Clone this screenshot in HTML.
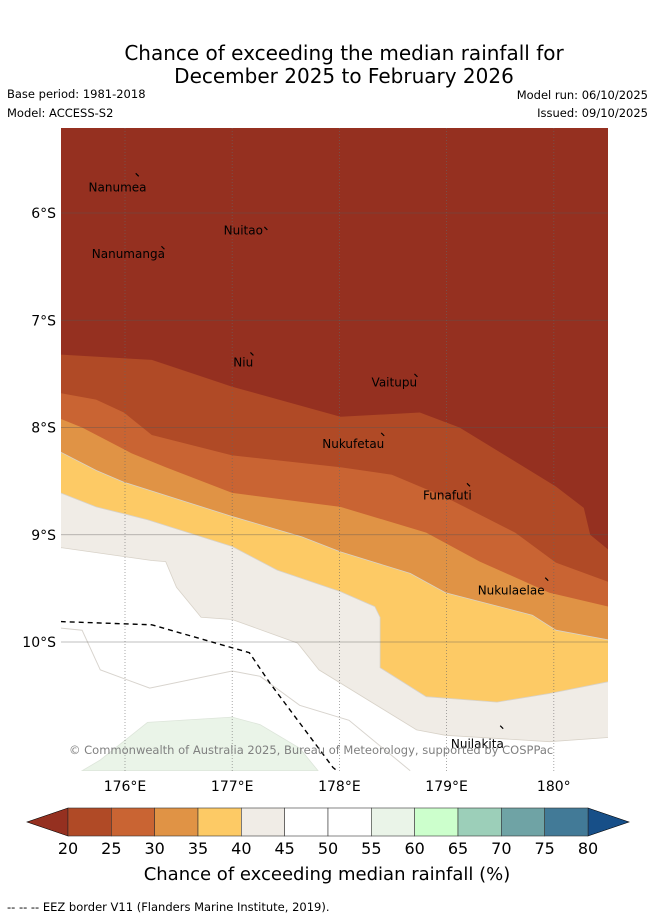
<!DOCTYPE html>
<html><head><meta charset="utf-8">
<style>
body{margin:0;background:#fff;width:655px;height:919px;overflow:hidden;font-family:"DejaVu Sans","Liberation Sans",sans-serif;}
svg text{font-family:"DejaVu Sans","Liberation Sans",sans-serif;}
</style></head>
<body>
<svg id="chart" width="655" height="919">
<text x="344" y="60" font-size="20" text-anchor="middle">Chance of exceeding the median rainfall for</text>
<text x="344" y="83" font-size="20" text-anchor="middle">December 2025 to February 2026</text>
<text x="7" y="98" font-size="11.5">Base period: 1981-2018</text>
<text x="7" y="117" font-size="11.5">Model: ACCESS-S2</text>
<text x="648" y="99" font-size="11.5" text-anchor="end">Model run: 06/10/2025</text>
<text x="648" y="117" font-size="11.5" text-anchor="end">Issued: 09/10/2025</text>
<defs><clipPath id="mapclip"><rect x="61" y="128" width="547" height="643"/></clipPath></defs>
<g id="map" clip-path="url(#mapclip)"></g>
<g id="overlay"></g>
<g id="cbar"></g>
<text x="327" y="880" font-size="18" text-anchor="middle">Chance of exceeding median rainfall (%)</text>
<text x="7" y="911" font-size="11.5">--  --  -- EEZ border V11 (Flanders Marine Institute, 2019).</text>
</svg>
<script>
const lonTicks=[176,177,178,179,180];
const latTicks=[6,7,8,9,10];
const levelColors=['#953020','#b04a26','#c96433','#e09345','#fdca65','#f0ece6','#ffffff','#ffffff','#eaf4e8','#ccffcc','#9ccfb9','#6fa3a5','#427a97','#174f88'];
const levelTicks=[20,25,30,35,40,45,50,55,60,65,70,75,80];
const contour20_25=[[175.4,7.32],[176.25,7.37],[177.0,7.62],[178.01,7.90],[178.75,7.86],[179.12,8.0],[180.02,8.55],[180.28,8.75],[180.34,9.0],[180.51,9.14]];
const contour25_30=[[175.4,7.68],[175.73,7.74],[175.99,7.86],[176.25,8.07],[177.0,8.26],[178.01,8.37],[178.49,8.44],[178.99,8.65],[179.64,8.98],[180.02,9.26],[180.51,9.44]];
const contour30_35=[[175.4,7.92],[175.6,8.0],[176.06,8.24],[176.38,8.37],[177.0,8.61],[178.01,8.74],[178.81,8.98],[179.31,9.25],[179.96,9.54],[180.51,9.67]];
const contour35_40=[[175.4,8.23],[175.73,8.40],[175.99,8.51],[177.0,8.83],[177.65,9.02],[178.01,9.16],[178.66,9.36],[178.99,9.54],[179.8,9.75],[180.02,9.89],[180.51,9.98]];
const contour40_45=[[175.4,8.61],[175.73,8.74],[176.21,8.86],[177.0,9.11],[177.42,9.33],[178.01,9.53],[178.33,9.67],[178.38,9.77],[178.38,10.24],[178.81,10.51],[179.47,10.56],[179.96,10.48],[180.51,10.37]];
const contour45_50=[[175.4,9.12],[176.25,9.24],[176.38,9.25],[176.48,9.49],[176.71,9.77],[177.0,9.79],[177.61,10.01],[177.81,10.26],[178.72,10.82],[178.99,10.87],[179.96,10.93],[180.51,10.89]];
const greenPatch=[[175.6,11.2],[175.77,11.10],[176.21,10.75],[177.0,10.70],[177.26,10.77],[177.63,10.99],[177.8,11.2]];
const faintContour=[[175.4,9.87],[175.6,9.89],[175.77,10.26],[176.23,10.43],[177.0,10.27],[177.26,10.32],[177.63,10.59],[178.09,10.73],[178.66,11.2]];
const eezBorder=[[175.4,9.81],[176.25,9.84],[177.16,10.10],[177.35,10.38],[177.94,11.17],[178.0,11.22]];
const islandNames=['Nanumea','Nuitao','Nanumanga','Niu','Vaitupu','Nukufetau','Funafuti','Nukulaelae','Nuilakita'];
const islandLabelLon=[175.66,176.92,175.69,177.01,178.3,177.84,178.78,179.29,179.04];
const islandLabelLat=[5.79,6.19,6.41,7.42,7.61,8.18,8.66,9.55,10.98];
const islandMarkLon=[176.1,177.3,176.34,177.17,178.7,178.39,179.19,179.92,179.5];
const islandMarkLat=[5.63,6.13,6.31,7.30,7.50,8.05,8.52,9.40,10.78];

const X=lon=>125+(lon-176)*107.2;
const Y=lat=>213+(lat-6)*107.25;
const NS='http://www.w3.org/2000/svg';
const map=document.getElementById('map');
function mk(tag,attrs,parent){const e=document.createElementNS(NS,tag);for(const k in attrs)e.setAttribute(k,attrs[k]);parent.appendChild(e);return e;}
function pts(a){return a.map(p=>X(p[0]).toFixed(1)+','+Y(p[1]).toFixed(1)).join(' ');}
function closed(a){return pts(a)+' '+X(180.6)+','+Y(11.4)+' '+X(175.3)+','+Y(11.4);}

let bg=mk('rect',{x:61,y:128,width:547,height:643,fill:levelColors[0]},map);


const contours=[contour20_25,contour25_30,contour30_35,contour35_40,contour40_45,contour45_50];
const names=['region-20-25','region-25-30','region-30-35','region-35-40','region-40-45','region-45-55'];
contours.forEach((c,i)=>{
  const p=mk('polygon',{points:closed(c),fill:levelColors[i+1],stroke:i>=3?'#d8d2c8':'none','stroke-width':0.8},map);
  
  
});
let g=mk('polygon',{points:pts(greenPatch),fill:levelColors[8],stroke:'#dde5da','stroke-width':0.8},map);


let fc=mk('polyline',{points:pts(faintContour),fill:'none',stroke:'#d8d4ce','stroke-width':1},map);


lonTicks.forEach(l=>{
  const ln=mk('line',{x1:X(l),x2:X(l),y1:128,y2:771,stroke:'#666','stroke-width':0.8,'stroke-dasharray':'1,2','stroke-opacity':0.7},map);
  
  
});
latTicks.forEach(l=>{
  const ln=mk('line',{x1:61,x2:608,y1:Y(l),y2:Y(l),stroke:'#555','stroke-width':0.8,'stroke-opacity':0.5},map);
  
  
});
let ez=mk('polyline',{points:pts(eezBorder),fill:'none',stroke:'#000','stroke-width':1.4,'stroke-dasharray':'5,4'},map);


islandNames.forEach((n,i)=>{
  const t=mk('text',{x:X(islandLabelLon[i]),y:Y(islandLabelLat[i])+1,'font-size':12,fill:'#000'},map);
  t.textContent=n;
  
  
  const m=mk('line',{x1:X(islandMarkLon[i]),y1:Y(islandMarkLat[i]),x2:X(islandMarkLon[i])+3,y2:Y(islandMarkLat[i])+3,stroke:'#000','stroke-width':1.2},map);
  
  
});
let cp=mk('text',{x:69,y:754,'font-size':11.5,fill:'#808080'},map);
cp.textContent='© Commonwealth of Australia 2025, Bureau of Meteorology, supported by COSPPac';


const ov=document.getElementById('overlay');
lonTicks.forEach(l=>{
  const t=mk('text',{x:X(l),y:791,'font-size':14,'text-anchor':'middle'},ov);
  t.textContent=l+'°'+(l<180?'E':'');
  
  
});
latTicks.forEach(l=>{
  const t=mk('text',{x:56,y:Y(l)+5,'font-size':14,'text-anchor':'end'},ov);
  t.textContent=l+'°S';
  
  
});
const cb=document.getElementById('cbar');
const cbX=v=>68+(v-20)*(520/60);
const cy0=808,cy1=836;
let la=mk('polygon',{points:`${cbX(20)},${cy0} 27,${(cy0+cy1)/2} ${cbX(20)},${cy1}`,fill:levelColors[0],stroke:'#000','stroke-width':0.6},cb);


let ra=mk('polygon',{points:`${cbX(80)},${cy0} 629,${(cy0+cy1)/2} ${cbX(80)},${cy1}`,fill:levelColors[13],stroke:'#000','stroke-width':0.6},cb);


for(let i=0;i<levelTicks.length-1;i++){
  const r=mk('rect',{x:cbX(levelTicks[i]),y:cy0,width:cbX(levelTicks[i+1])-cbX(levelTicks[i]),height:cy1-cy0,fill:levelColors[i+1],stroke:'#333','stroke-width':0.6},cb);
  
  
}
levelTicks.forEach(v=>{
  const t=mk('text',{x:cbX(v),y:854,'font-size':16,'text-anchor':'middle'},cb);
  t.textContent=v;
  
  
});
</script>
</body></html>
